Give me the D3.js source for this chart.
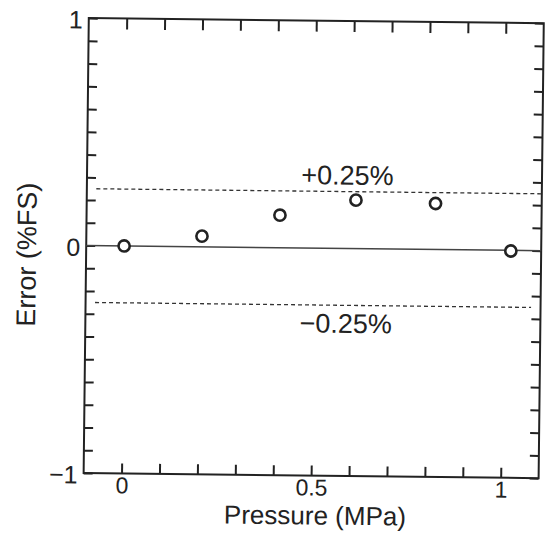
<!DOCTYPE html>
<html>
<head>
<meta charset="utf-8">
<script src="https://cdn.jsdelivr.net/npm/d3@7/dist/d3.min.js"></script>
<style>
  html, body { margin: 0; padding: 0; background: #ffffff; }
  svg { display: block; }
</style>
</head>
<body>
<script>
// ---- data ----
const pressure = [0, 0.205, 0.41, 0.61, 0.82, 1.02];          // MPa
const errorFS  = [0, 0.047, 0.143, 0.213, 0.202, -0.003];     // %FS

const xTicks = [0, 0.1, 0.2, 0.3, 0.4, 0.5, 0.6, 0.7, 0.8, 0.9, 1.0];
const xTickLabels = [0, 0.5, 1];
const yTicks = [-1, -0.9, -0.8, -0.7, -0.6, -0.5, -0.4, -0.3, -0.2, -0.1, 0,
                0.1, 0.2, 0.3, 0.4, 0.5, 0.6, 0.7, 0.8, 0.9, 1];
const yTickLabels = [-1, 0, 1];

const limitValues = [0.25, -0.25];
const limitLabels = ["+0.25%", "\u22120.25%"];
const limitStart  = [-0.075, -0.075];
const limitEnd    = [1.1, 1.075];

const xDomain = [-0.1, 1.1];
const yDomain = [-1, 1];

// ---- layout ----
const W = 545, H = 544;
const FONT = "'Liberation Sans', Arial, Helvetica, sans-serif";
const INK = "#222";

const svg = d3.select("body").append("svg").attr("width", W).attr("height", H);
svg.append("rect").attr("width", W).attr("height", H).attr("fill", "#fff");

// slight scan rotation
const g = svg.append("g").attr("transform", "rotate(0.65 313.7 248)");

const x = d3.scaleLinear().domain(xDomain).range([86.2, 541.2]);
const y = d3.scaleLinear().domain(yDomain).range([475.6, 20.6]);

const near = (arr, d) => arr.some(v => Math.abs(v - d) < 1e-9);
const fmtY = d => d < 0 ? "\u2212" + Math.abs(d) : String(d);

function styleAxis(sel, size) {
  sel.select(".domain").remove();
  sel.selectAll(".tick line").attr("stroke", INK).attr("stroke-width", 2);
  sel.selectAll(".tick text")
    .attr("fill", INK)
    .style("font-family", FONT)
    .style("font-size", size + "px");
}

// bottom axis
const gB = g.append("g").attr("transform", `translate(0,${y(-1)})`)
  .call(d3.axisBottom(x).tickValues(xTicks).tickSizeInner(-10).tickSizeOuter(0)
    .tickPadding(3.6).tickFormat(d => near(xTickLabels, d) ? String(d) : ""));
styleAxis(gB, 23);

// top axis
const gT = g.append("g").attr("transform", `translate(0,${y(1)})`)
  .call(d3.axisTop(x).tickValues(xTicks).tickSizeInner(-11).tickSizeOuter(0)
    .tickFormat(() => ""));
styleAxis(gT, 23);

// left axis
const gL = g.append("g").attr("transform", `translate(${x(-0.1)},0)`)
  .call(d3.axisLeft(y).tickValues(yTicks).tickSizeInner(-9).tickSizeOuter(0)
    .tickPadding(6).tickFormat(d => near(yTickLabels, d) ? fmtY(d) : ""));
styleAxis(gL, 25);
gL.selectAll(".tick text").attr("dy", "0.4em");

// right axis
const gR = g.append("g").attr("transform", `translate(${x(1.1)},0)`)
  .call(d3.axisRight(y).tickValues(yTicks).tickSizeInner(-9).tickSizeOuter(0)
    .tickFormat(() => ""));
styleAxis(gR, 23);

// frame
g.append("rect")
  .attr("x", x(xDomain[0])).attr("y", y(yDomain[1]))
  .attr("width", x(xDomain[1]) - x(xDomain[0]))
  .attr("height", y(yDomain[0]) - y(yDomain[1]))
  .attr("fill", "none").attr("stroke", INK).attr("stroke-width", 2);

// zero line
g.append("line")
  .attr("x1", x(xDomain[0])).attr("x2", x(xDomain[1]))
  .attr("y1", y(0)).attr("y2", y(0))
  .attr("stroke", "#444").attr("stroke-width", 1.5);

// limit lines
g.selectAll(".limit").data(limitValues).join("line")
  .attr("class", "limit")
  .attr("x1", (d, i) => x(limitStart[i])).attr("x2", (d, i) => x(limitEnd[i]))
  .attr("y1", d => y(d)).attr("y2", d => y(d))
  .attr("stroke", "#333").attr("stroke-width", 1.3)
  .attr("stroke-dasharray", "4,3");

// limit labels
const labelOffset = [-7, 27.5];
g.selectAll(".limitLabel").data(limitValues).join("text")
  .attr("class", "limitLabel")
  .attr("x", x(0.465))
  .attr("y", (d, i) => y(d) + labelOffset[i])
  .attr("fill", INK)
  .style("font-family", FONT).style("font-size", "27px")
  .text((d, i) => limitLabels[i]);

// points
g.selectAll(".pt").data(pressure).join("circle")
  .attr("class", "pt")
  .attr("cx", d => x(d))
  .attr("cy", (d, i) => y(errorFS[i]))
  .attr("r", 5.6)
  .attr("fill", "#fff").attr("stroke", INK).attr("stroke-width", 2.6);

// axis titles
g.append("text")
  .attr("x", 318).attr("y", 524.5)
  .attr("text-anchor", "middle").attr("fill", INK)
  .style("font-family", FONT).style("font-size", "26px")
  .text("Pressure (MPa)");

g.append("text")
  .attr("transform", "translate(36,258) rotate(-90)")
  .attr("text-anchor", "middle").attr("fill", INK)
  .style("font-family", FONT).style("font-size", "27px")
  .text("Error (%FS)");
</script>
</body>
</html>
